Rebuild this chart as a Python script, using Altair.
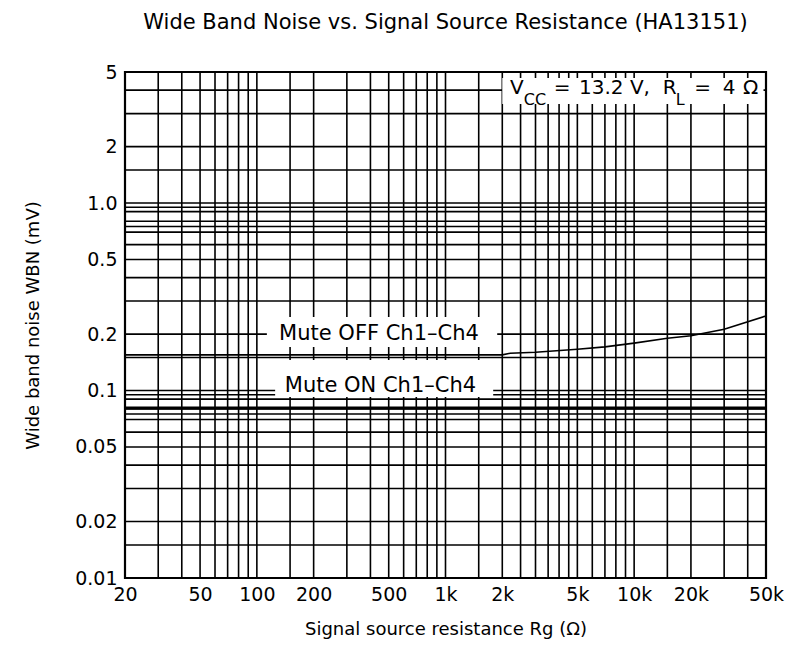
import altair as alt
import pandas as pd

# --- data -------------------------------------------------------------
# Mute OFF (Ch1-Ch4): wide band noise vs source resistance
off_rg = [20, 100, 500, 1000, 2000, 2200, 3000, 5000, 7000, 10000, 15000, 20000, 30000, 50000]
off_wbn = [0.155, 0.155, 0.155, 0.155, 0.155, 0.158, 0.160, 0.166, 0.171, 0.179, 0.190, 0.196, 0.212, 0.250]

# Mute ON (Ch1-Ch4): flat across the whole range
on_rg = [20, 50000]
on_wbn = [0.0805, 0.0805]

# chart-paper grid lines
x_grid = [30, 40, 50, 60, 70, 80, 90, 100, 150, 200, 300, 400, 500, 600, 700, 800, 900,
          1000, 1500, 2000, 2500, 3000, 3500, 4000, 4500, 5000, 6000, 7000, 8000, 9000,
          10000, 15000, 20000, 30000, 40000]
y_grid = [4, 3, 2, 1.5, 1.0, 0.95, 0.9, 0.8, 0.75, 0.7, 0.6, 0.5, 0.4, 0.3, 0.2, 0.15,
          0.1, 0.095, 0.09, 0.08, 0.075, 0.07, 0.06, 0.05, 0.04, 0.03, 0.02, 0.015]

# axis ranges and tick labels
x_range = [20, 50000]
y_range = [0.01, 5]
x_ticks = [20, 50, 100, 200, 500, 1000, 2000, 5000, 10000, 20000, 50000]
x_tick_labels = ["20", "50", "100", "200", "500", "1k", "2k", "5k", "10k", "20k", "50k"]
y_ticks = [0.01, 0.02, 0.05, 0.1, 0.2, 0.5, 1.0, 2, 5]
y_tick_labels = ["0.01", "0.02", "0.05", "0.1", "0.2", "0.5", "1.0", "2", "5"]

FONT = "DejaVu Sans"
INK = "#000000"


def label_expr(values, labels):
    expr = "''"
    for v, lab in reversed(list(zip(values, labels))):
        expr = f"datum.value == {v} ? '{lab}' : ({expr})"
    return expr


xs = alt.Scale(type="log", domain=x_range, nice=False)
ys = alt.Scale(type="log", domain=y_range, nice=False)

axis_style = dict(
    ticks=False, domain=False, grid=False, labelFlush=False, labelOverlap=False,
    labelFont=FONT, labelFontSize=19, labelColor=INK,
    titleFont=FONT, titleFontSize=18, titleFontWeight="normal", titleColor=INK,
)
x_axis = alt.Axis(values=x_ticks, labelExpr=label_expr(x_ticks, x_tick_labels),
                  title="Signal source resistance  Rg (Ω)",
                  labelPadding=7, titlePadding=16, **axis_style)
y_axis = alt.Axis(values=y_ticks, labelExpr=label_expr(y_ticks, y_tick_labels),
                  title="Wide band noise  WBN (mV)",
                  labelPadding=8, titlePadding=32, **axis_style)


def X(field):
    return alt.X(field, scale=xs, axis=x_axis)


def Y(field):
    return alt.Y(field, scale=ys, axis=y_axis)


vgrid = alt.Chart(pd.DataFrame({"rg": x_grid})).mark_rule(
    color=INK, strokeWidth=1.6
).encode(x=X("rg:Q"))

hgrid = alt.Chart(pd.DataFrame({"wbn": y_grid})).mark_rule(
    color=INK, strokeWidth=1.6
).encode(y=Y("wbn:Q"))

# white panels behind the in-plot labels
panels = pd.DataFrame({
    "x1": [113, 125, 2000],
    "x2": [1880, 1790, 48500],
    "y1": [0.1706, 0.0923, 3.37],
    "y2": [0.2466, 0.1455, 4.64],
})
panel_layer = alt.Chart(panels).mark_rect(color="white").encode(
    x=X("x1:Q"), x2="x2:Q", y=Y("y1:Q"), y2="y2:Q",
)

off_line = alt.Chart(pd.DataFrame({"rg": off_rg, "wbn": off_wbn})).mark_line(
    color=INK, strokeWidth=1.6
).encode(x=X("rg:Q"), y=Y("wbn:Q"))

on_line = alt.Chart(pd.DataFrame({"rg": on_rg, "wbn": on_wbn})).mark_line(
    color=INK, strokeWidth=3.2
).encode(x=X("rg:Q"), y=Y("wbn:Q"))

# curve labels
curve_labels = pd.DataFrame({
    "rg": [444, 452],
    "wbn": [0.2, 0.106],
    "txt": ["Mute OFF Ch1–Ch4", "Mute ON Ch1–Ch4"],
})
curve_text = alt.Chart(curve_labels).mark_text(
    font=FONT, fontSize=21, color=INK, align="center", baseline="middle"
).encode(x=X("rg:Q"), y=Y("wbn:Q"), text="txt:N")

# operating condition label, with subscripts
cond_main = pd.DataFrame({
    "rg": [2200, 3750, 5100, 9500, 14200, 20800, 29500, 37800],
    "wbn": [4.1] * 8,
    "txt": ["V", "=", "13.2", "V,", "R", "=", "4", "Ω"],
})
cond_sub = pd.DataFrame({
    "rg": [2600, 16600],
    "wbn": [3.55, 3.55],
    "txt": ["CC", "L"],
})
cond_text = alt.Chart(cond_main).mark_text(
    font=FONT, fontSize=20, color=INK, align="left", baseline="middle"
).encode(x=X("rg:Q"), y=Y("wbn:Q"), text="txt:N")
cond_sub_text = alt.Chart(cond_sub).mark_text(
    font=FONT, fontSize=16, color=INK, align="left", baseline="middle"
).encode(x=X("rg:Q"), y=Y("wbn:Q"), text="txt:N")

# plot frame
frame = alt.Chart(pd.DataFrame({"x1": [x_range[0]], "x2": [x_range[1]],
                                "y1": [y_range[0]], "y2": [y_range[1]]})).mark_rect(
    fill=None, stroke=INK, strokeWidth=2.2
).encode(x=X("x1:Q"), x2="x2:Q", y=Y("y1:Q"), y2="y2:Q")

chart = alt.layer(
    vgrid, hgrid, panel_layer, off_line, on_line, curve_text, cond_text, cond_sub_text, frame
).properties(
    width=641,
    height=506,
    autosize="none",
    background="white",
    padding={"left": 125, "top": 72, "right": 21, "bottom": 77},
    title=alt.TitleParams(
        "Wide Band Noise vs. Signal Source Resistance (HA13151)",
        font=FONT, fontSize=21, fontWeight="normal", color=INK, offset=30,
    ),
).configure_view(
    stroke=None
)

chart.save("out.html", embed_options={"renderer": "svg", "actions": False})
